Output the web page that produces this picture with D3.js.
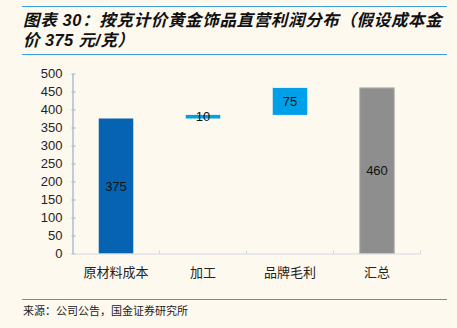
<!DOCTYPE html>
<html><head><meta charset="utf-8">
<script src="https://cdn.jsdelivr.net/npm/d3@7/dist/d3.min.js"></script>
<style>
html,body{margin:0;padding:0;background:#fdf9ef;}
svg{display:block;}
</style></head>
<body>
<svg id="c" width="457" height="328"></svg>
<script>
const categories = ["原材料成本", "加工", "品牌毛利", "汇总"];
const values = [375, 10, 75, 460];
const isTotal = [false, false, false, true];
const barColors = ["#0563b2", "#00a0e8", "#00a0e8", "#8e8e8e"];
const yTicks = [0, 50, 100, 150, 200, 250, 300, 350, 400, 450, 500];
const titleLines = ["图表 30：按克计价黄金饰品直营利润分布（假设成本金", "价 375 元/克）"];
const sourceText = "来源：公司公告，国金证券研究所";

(function () {
const svg = d3.select("#c");
const mLeft = 72.5, mRight = 420.5, mTop = 73.5, mBottom = 253.5;

svg.append("line").attr("x1", 22).attr("x2", 447).attr("y1", 6.5).attr("y2", 6.5).attr("stroke", "#3a9fd6").attr("stroke-width", 1.2);
svg.append("line").attr("x1", 22).attr("x2", 447).attr("y1", 54.5).attr("y2", 54.5).attr("stroke", "#3a9fd6").attr("stroke-width", 1.2);
titleLines.forEach((t, i) => {
  svg.append("text").attr("x", 23).attr("y", 26 + i * 20)
    .attr("font-family", "'Liberation Sans', 'Noto Sans CJK SC', sans-serif").attr("font-size", 16.5)
    .attr("font-weight", "bold").attr("font-style", "italic").attr("fill", "#111")
    .attr("letter-spacing", i === 0 ? 0.65 : 0.4)
    .text(t);
});

const x = d3.scaleBand().domain(categories).range([mLeft, mRight]).paddingInner(0).paddingOuter(0);
const y = d3.scaleLinear().domain([0, 500]).range([mBottom, mTop]);

let run = 0;
const bars = categories.map((c, i) => {
  let b0, b1;
  if (isTotal[i]) { b0 = 0; b1 = values[i]; }
  else { b0 = run; b1 = run + values[i]; run = b1; }
  return { c, v: values[i], b0, b1, color: barColors[i], total: isTotal[i] };
});

const bw = 34.5;
const g = svg.append("g");
g.selectAll("rect.bar").data(bars).enter().append("rect")
  .attr("x", d => x(d.c) + x.bandwidth() / 2 - bw / 2)
  .attr("width", bw)
  .attr("y", d => y(d.b1))
  .attr("height", d => Math.max(y(d.b0) - y(d.b1), 0))
  .attr("fill", d => d.color)
  .attr("stroke", d => d.total ? "#b4b4b4" : "none")
  .attr("stroke-width", 1);

const yAxis = d3.axisLeft(y).tickValues(yTicks).tickSize(0).tickPadding(10);
const ya = svg.append("g").attr("transform", `translate(${mLeft},0)`).call(yAxis);
ya.select(".domain").attr("stroke", "#a9bcd6").attr("stroke-width", 1.5);
ya.selectAll("text").attr("font-family", "'Liberation Sans', Arial, sans-serif").attr("font-size", 13).attr("fill", "#222");
ya.selectAll(".tick").append("line").attr("x1", -1).attr("x2", 3).attr("stroke", "#a9bcd6").attr("stroke-width", 1.2);

const xAxis = d3.axisBottom(x).tickSize(0).tickPadding(14);
const xa = svg.append("g").attr("transform", `translate(0,${mBottom})`).call(xAxis);
xa.select(".domain").attr("stroke", "#d3d7de").attr("stroke-width", 1.2);
xa.selectAll("text").attr("font-family", "'Noto Sans CJK SC', sans-serif").attr("font-size", 13).attr("fill", "#222");
categories.slice(1).forEach(c => {
  xa.append("line").attr("x1", x(c)).attr("x2", x(c)).attr("y1", -3).attr("y2", 0).attr("stroke", "#d3d7de");
});
xa.append("line").attr("x1", mRight).attr("x2", mRight).attr("y1", -3).attr("y2", 0).attr("stroke", "#d3d7de");

g.selectAll("text.lbl").data(bars).enter().append("text")
  .attr("x", d => x(d.c) + x.bandwidth() / 2)
  .attr("y", d => (y(d.b0) + y(d.b1)) / 2)
  .attr("dy", "0.36em")
  .attr("text-anchor", "middle")
  .attr("font-family", "'Liberation Sans', Arial, sans-serif").attr("font-size", 13)
  .attr("fill", "#111")
  .text(d => d.v);

svg.append("line").attr("x1", 22).attr("x2", 447).attr("y1", 299.5).attr("y2", 299.5).attr("stroke", "#3a9fd6").attr("stroke-width", 1);
svg.append("text").attr("x", 23).attr("y", 315)
  .attr("font-family", "'Noto Sans CJK SC', sans-serif").attr("font-size", 11).attr("fill", "#222")
  .text(sourceText);
})();
</script>
</body></html>
